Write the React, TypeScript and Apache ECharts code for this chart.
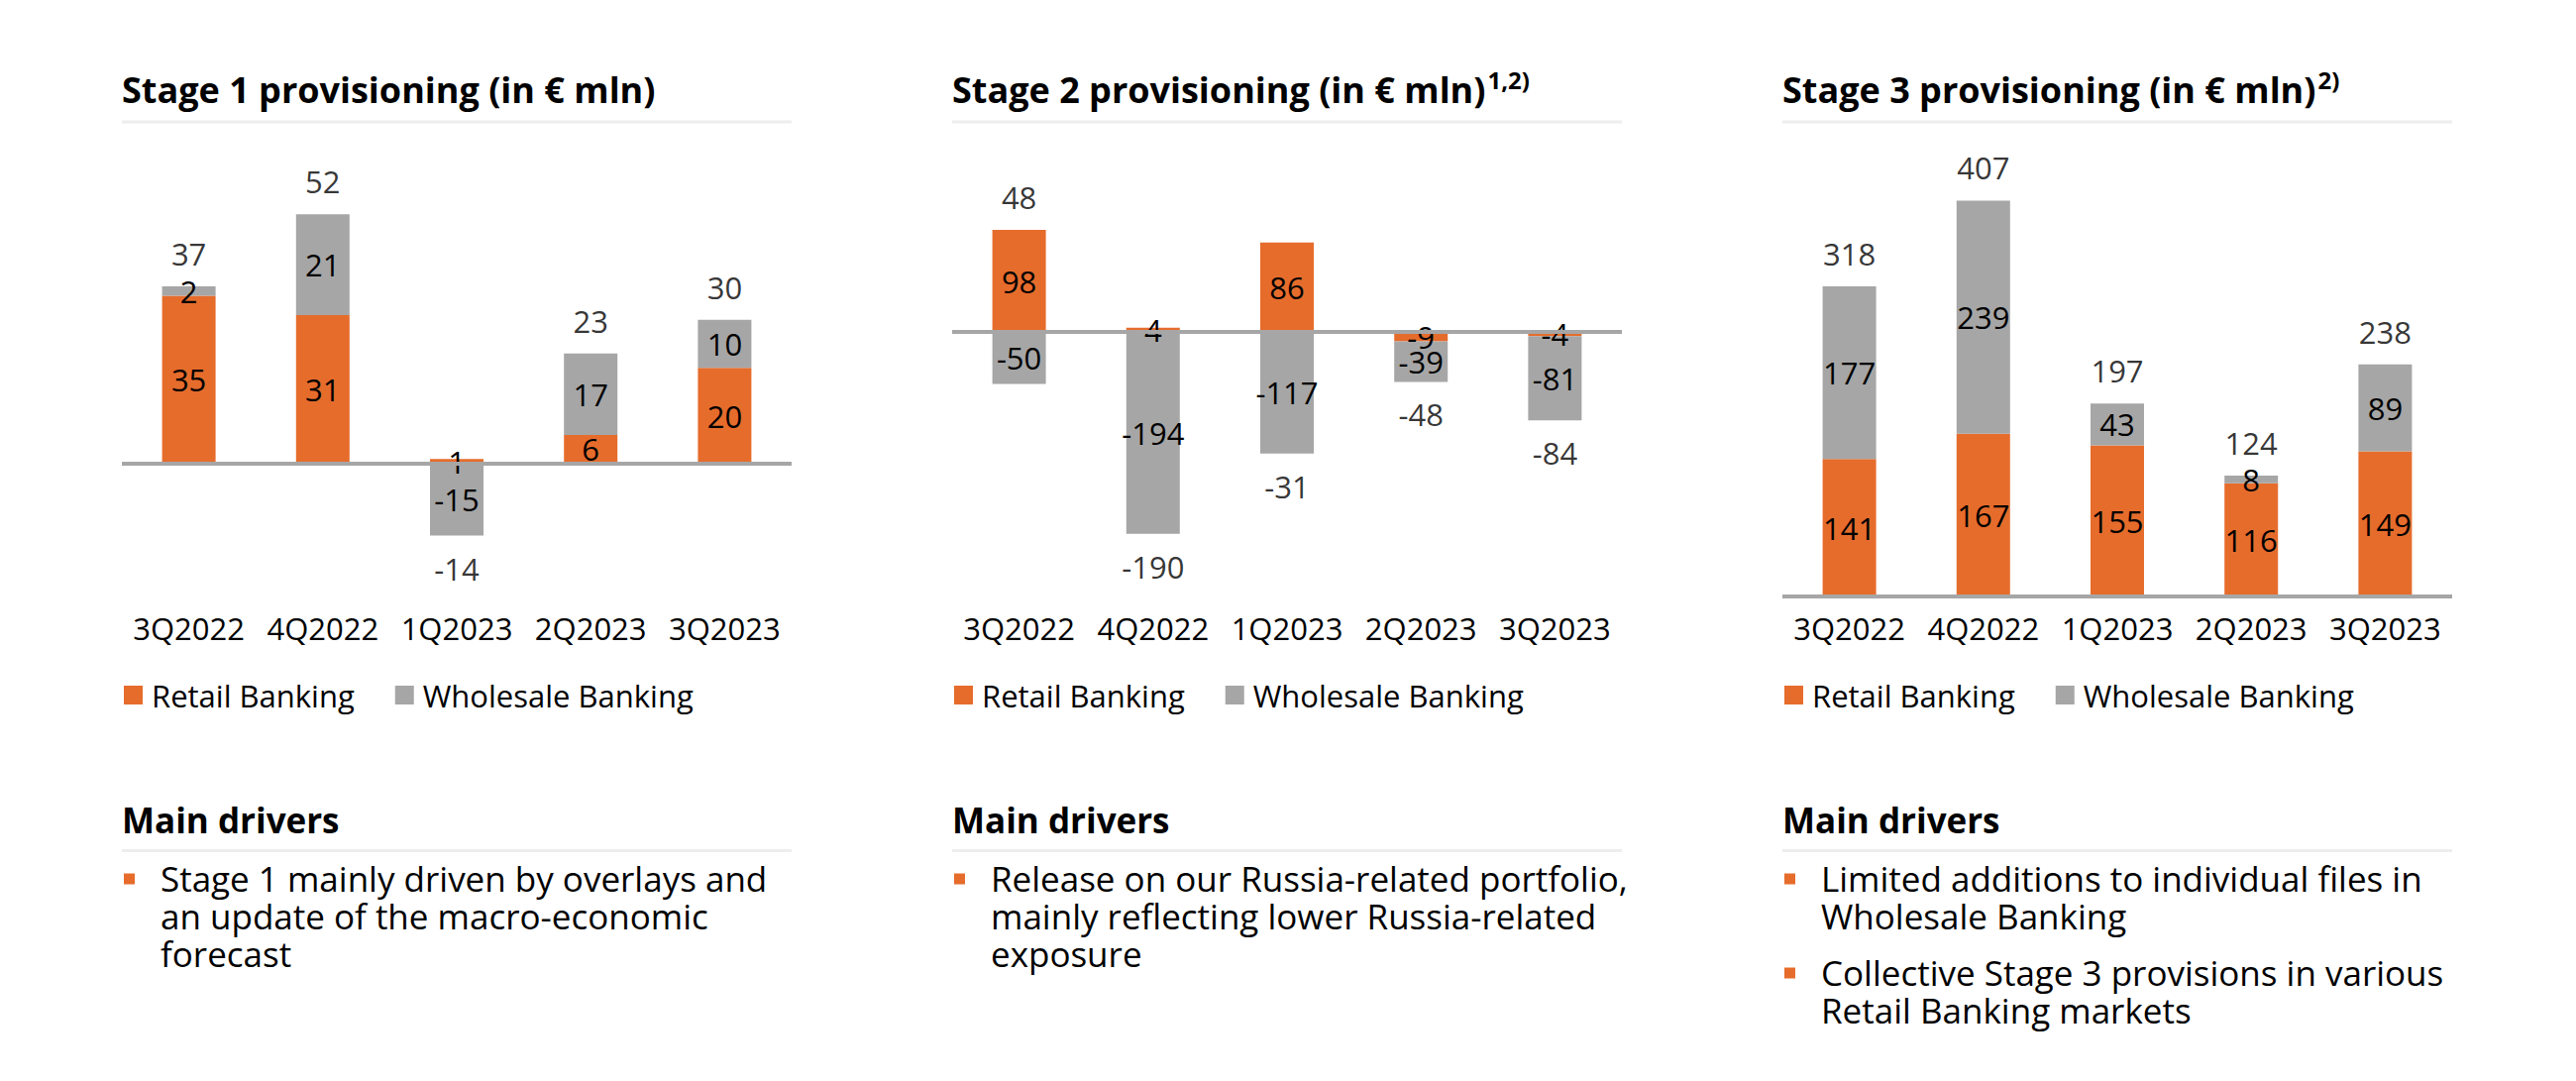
import React, { useEffect, useRef } from "react";
import * as echarts from "echarts";

// ---------- data ----------
const categories = ["3Q2022", "4Q2022", "1Q2023", "2Q2023", "3Q2023"];
const seriesNames = ["Retail Banking", "Wholesale Banking"];

const stage1Retail = [35, 31, 1, 6, 20];
const stage1Wholesale = [2, 21, -15, 17, 10];
const stage1Total = [37, 52, -14, 23, 30];

const stage2Retail = [98, 4, 86, -9, -4];
const stage2Wholesale = [-50, -194, -117, -39, -81];
const stage2Total = [48, -190, -31, -48, -84];

const stage3Retail = [141, 167, 155, 116, 149];
const stage3Wholesale = [177, 239, 43, 8, 89];
const stage3Total = [318, 407, 197, 124, 238];

const titles = [
  "Stage 1 provisioning (in € mln)",
  "Stage 2 provisioning (in € mln)",
  "Stage 3 provisioning (in € mln)",
];
const titleNotes = ["", "1,2)", "2)"];

const driversHeading = "Main drivers";
const drivers1 = ["Stage 1 mainly driven by overlays and\nan update of the macro-economic\nforecast"];
const drivers2 = ["Release on our Russia-related portfolio,\nmainly reflecting lower Russia-related\nexposure"];
const drivers3 = [
  "Limited additions to individual files in\nWholesale Banking",
  "Collective Stage 3 provisions in various\nRetail Banking markets",
];

// ---------- style / layout ----------
const ORANGE = "#E66C2C";
const GRAY = "#A6A6A6";
const SEP = "#EDEDED";
const FONT = '"Open Sans", "Noto Sans", sans-serif';
const PANEL_LEFT = [123, 961, 1799];
const PANEL_WIDTH = 676;

const panels = [
  { retail: stage1Retail, wholesale: stage1Wholesale, total: stage1Total, min: -20, max: 60, zeroY: 468, ppu: 4.84, drivers: drivers1 },
  { retail: stage2Retail, wholesale: stage2Wholesale, total: stage2Total, min: -200, max: 150, zeroY: 335, ppu: 1.05, drivers: drivers2 },
  { retail: stage3Retail, wholesale: stage3Wholesale, total: stage3Total, min: 0, max: 450, zeroY: 602, ppu: 0.984, drivers: drivers3 },
];

const LABEL_CENTER_Y = 634;
const LABEL_FS = 31;

function buildOption() {
  const grid: any[] = [];
  const xAxis: any[] = [];
  const yAxis: any[] = [];
  const series: any[] = [];
  const legend: any[] = [];
  const graphic: any[] = [];

  panels.forEach((p, k) => {
    const L = PANEL_LEFT[k];
    const top = p.zeroY - p.max * p.ppu;
    const height = (p.max - p.min) * p.ppu;
    const bottom = top + height;
    grid.push({ left: L, top, width: PANEL_WIDTH, height, containLabel: false });
    xAxis.push({
      type: "category",
      gridIndex: k,
      data: categories,
      axisLine: { show: false, onZero: false },
      axisTick: { show: false },
      splitLine: { show: false },
      axisLabel: {
        show: true,
        interval: 0,
        color: "#000",
        fontSize: LABEL_FS,
        fontFamily: FONT,
        lineHeight: LABEL_FS,
        margin: LABEL_CENTER_Y - LABEL_FS / 2 - bottom,
      },
    });
    yAxis.push({ type: "value", gridIndex: k, min: p.min, max: p.max, show: false, splitLine: { show: false } });

    const labelBase = { show: true, color: "#000", fontSize: LABEL_FS, fontFamily: FONT, textBorderWidth: 0 };
    series.push({
      type: "bar",
      name: seriesNames[0],
      xAxisIndex: k,
      yAxisIndex: k,
      stack: "s" + k,
      barWidth: 54,
      data: p.retail,
      itemStyle: { color: ORANGE },
      label: { ...labelBase, position: "inside" },
      emphasis: { disabled: true },
    });
    series.push({
      type: "bar",
      name: seriesNames[1],
      xAxisIndex: k,
      yAxisIndex: k,
      stack: "s" + k,
      barWidth: 54,
      data: p.wholesale,
      itemStyle: { color: GRAY },
      label: { ...labelBase, position: "inside" },
      emphasis: { disabled: true },
      markLine: {
        silent: true,
        symbol: ["none", "none"],
        label: { show: false },
        lineStyle: { color: GRAY, width: 4, type: "solid" },
        emphasis: { disabled: true },
        data: [{ yAxis: 0 }],
      },
    });
    const anchors = p.total.map((t, i) => {
      const a = p.retail[i];
      const b = p.wholesale[i];
      const pos = (a > 0 ? a : 0) + (b > 0 ? b : 0);
      const neg = (a < 0 ? a : 0) + (b < 0 ? b : 0);
      return { value: t >= 0 ? pos : neg, label: { position: t >= 0 ? "top" : "bottom" } };
    });
    const totals = p.total;
    series.push({
      type: "scatter",
      name: "Total",
      xAxisIndex: k,
      yAxisIndex: k,
      data: anchors,
      symbolSize: 1,
      itemStyle: { color: "rgba(0,0,0,0)" },
      silent: true,
      z: 5,
      label: { ...labelBase, distance: 17, formatter: (prm: any) => String(totals[prm.dataIndex]) },
      emphasis: { disabled: true },
    });

    legend.push({
      data: seriesNames,
      left: L + 2,
      top: 686,
      icon: "rect",
      itemWidth: 19,
      itemHeight: 19,
      itemGap: 41,
      padding: 0,
      selectedMode: false,
      textStyle: { color: "#000", fontSize: LABEL_FS, fontFamily: FONT, padding: [0, 0, 0, 4] },
    });

    // title
    const note = titleNotes[k];
    graphic.push({
      type: "text",
      x: L,
      y: 90,
      style: {
        text: "{t|" + titles[k] + "}" + (note ? "{s|" + note + "}" : ""),
        rich: {
          t: { fontSize: 36, fontWeight: "bold", fontFamily: FONT, fill: "#000", lineHeight: 44 },
          s: { fontSize: 24, fontWeight: "bold", fontFamily: FONT, fill: "#000", lineHeight: 30, verticalAlign: "top", padding: [0, 0, 0, 2] },
        },
        align: "left",
        verticalAlign: "middle",
      },
    });
    graphic.push({
      type: "line",
      shape: { x1: L, y1: 123, x2: L + PANEL_WIDTH, y2: 123 },
      style: { stroke: SEP, lineWidth: 3 },
    });
    // main drivers
    graphic.push({
      type: "text",
      x: L,
      y: 827.5,
      style: {
        text: driversHeading,
        fontSize: 35,
        fontWeight: "bold",
        fontFamily: FONT,
        fill: "#000",
        align: "left",
        verticalAlign: "middle",
      },
    });
    graphic.push({
      type: "line",
      shape: { x1: L, y1: 858.5, x2: L + PANEL_WIDTH, y2: 858.5 },
      style: { stroke: SEP, lineWidth: 3 },
    });
    let ty = 867.5;
    p.drivers.forEach((d) => {
      const nLines = d.split("\n").length;
      graphic.push({
        type: "rect",
        shape: { x: L + 2, y: ty + 14, width: 11, height: 11 },
        style: { fill: ORANGE },
      });
      graphic.push({
        type: "text",
        x: L + 39,
        y: ty,
        style: {
          text: d,
          fontSize: 35,
          fontFamily: FONT,
          fill: "#000",
          lineHeight: 38,
          align: "left",
          verticalAlign: "top",
        },
      });
      ty += nLines * 38 + 19;
    });
  });

  return {
    animation: false,
    backgroundColor: "#fff",
    grid,
    xAxis,
    yAxis,
    legend,
    series,
    graphic,
  };
}

export default function App() {
  const ref = useRef<HTMLDivElement>(null);
  useEffect(() => {
    if (!ref.current) return;
    const chart = echarts.init(ref.current, undefined, { renderer: "svg" });
    chart.setOption(buildOption() as any);
    return () => chart.dispose();
  }, []);
  return (
    <div
      ref={ref}
      style={{ position: "absolute", left: 0, top: 0, width: 2600, height: 1091, background: "#fff" }}
    />
  );
}
